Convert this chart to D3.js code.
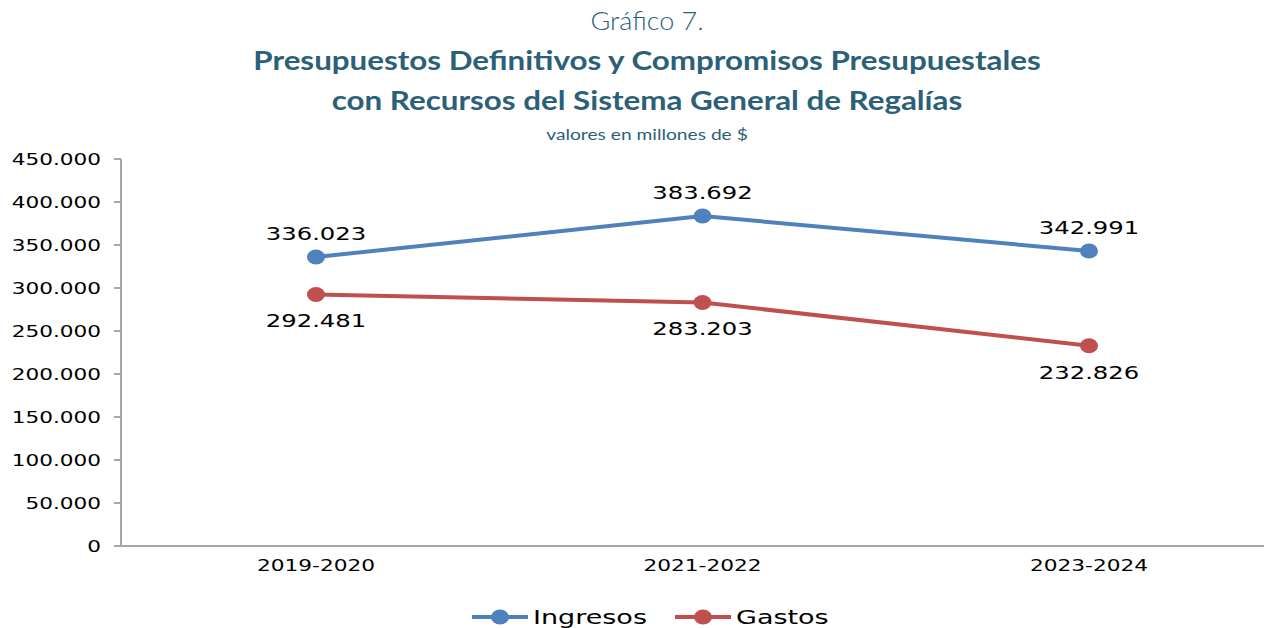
<!DOCTYPE html>
<html>
<head>
<meta charset="utf-8">
<script src="https://cdn.jsdelivr.net/npm/d3@7"></script>
<style>
  body { margin: 0; background: #fff; }
  svg { display: block; }
</style>
</head>
<body>
<svg id="chart"></svg>
<script>
// Data
const periods = ["2019-2020", "2021-2022", "2023-2024"];
const ingresos = [336023, 383692, 342991];
const gastos = [292481, 283203, 232826];
const yTicks = [0, 50000, 100000, 150000, 200000, 250000, 300000, 350000, 400000, 450000];
const seriesNames = ["Ingresos", "Gastos"];

const config = {
  width: 1264,
  height: 628,
  margin: {top: 159, right: 0, bottom: 82, left: 121},
  colors: ["#4f81bd", "#c0504d"],
  titleColor: "#2c5f78"
};

const svg = d3.select("#chart")
    .attr("width", config.width)
    .attr("height", config.height);

// text that is a bit wider than the installed fonts draw it
function wideText(parent, x, y, str, sx, anchor) {
  return parent.append("text")
    .attr("transform", `translate(${x},${y}) scale(${sx},1)`)
    .attr("text-anchor", anchor || "middle")
    .text(str);
}

// Titles
const titles = svg.append("g")
    .attr("fill", config.titleColor)
    .style("font-family", "Lato, 'Noto Sans', sans-serif");

wideText(titles, 647, 30, "Gráfico 7.", 1.08)
    .style("font-size", "25px")
    .style("font-weight", 300);
wideText(titles, 647, 70, "Presupuestos Definitivos y Compromisos Presupuestales", 1.14)
    .style("font-size", "27.5px")
    .style("font-weight", 700);
wideText(titles, 647, 110, "con Recursos del Sistema General de Regalías", 1.14)
    .style("font-size", "27.5px")
    .style("font-weight", 700);
wideText(titles, 647, 140, "valores en millones de $", 1.2)
    .style("font-size", "16px");

// Scales
const innerBottom = config.height - config.margin.bottom;

const xScale = d3.scalePoint()
    .domain(periods)
    .range([316, 1089]);

const yScale = d3.scaleLinear()
    .domain([0, 450000])
    .range([innerBottom, config.margin.top]);

const fmt = d3.formatLocale({decimal: ",", thousands: ".", grouping: [3], currency: ["$", ""]}).format(",d");

// Y axis
const yAxisG = svg.append("g")
    .attr("transform", `translate(${config.margin.left},0)`);

yAxisG.append("line")
    .attr("y1", yScale(450000))
    .attr("y2", yScale(0))
    .attr("stroke", "#a6a6a6")
    .attr("stroke-width", 2);

yAxisG.selectAll(".tick")
  .data(yTicks)
  .join("line")
    .attr("class", "tick")
    .attr("x1", -7)
    .attr("x2", 0)
    .attr("y1", d => yScale(d))
    .attr("y2", d => yScale(d))
    .attr("stroke", "#a6a6a6")
    .attr("stroke-width", 2);

const yLabels = yAxisG.append("g")
    .style("font-family", "'DejaVu Sans', Verdana, sans-serif")
    .style("font-size", "16px")
    .attr("fill", "#000");

yTicks.forEach(t => {
  wideText(yLabels, -20, yScale(t) + 6, fmt(t), 1.35, "end");
});

// X axis
svg.append("line")
    .attr("x1", config.margin.left - 7)
    .attr("x2", config.width)
    .attr("y1", innerBottom)
    .attr("y2", innerBottom)
    .attr("stroke", "#a6a6a6")
    .attr("stroke-width", 2);

const xLabels = svg.append("g")
    .style("font-family", "'DejaVu Sans', Verdana, sans-serif")
    .style("font-size", "15.5px")
    .attr("fill", "#000");

periods.forEach(p => {
  wideText(xLabels, xScale(p), 571, p, 1.4);
});

// Lines and points
const series = [ingresos, gastos];
const line = d3.line()
    .x((d, i) => xScale(periods[i]))
    .y(d => yScale(d));

series.forEach((values, s) => {
  const g = svg.append("g");
  g.append("path")
      .datum(values)
      .attr("d", line)
      .attr("fill", "none")
      .attr("stroke", config.colors[s])
      .attr("stroke-width", 4)
      .attr("stroke-linejoin", "round");

  g.selectAll("ellipse")
    .data(values)
    .join("ellipse")
      .attr("cx", (d, i) => xScale(periods[i]))
      .attr("cy", d => yScale(d))
      .attr("rx", 9)
      .attr("ry", 7.5)
      .attr("fill", config.colors[s]);

  // value labels: above for ingresos, below for gastos
  const lbl = g.append("g")
      .style("font-family", "'DejaVu Sans', Verdana, sans-serif")
      .style("font-size", "18px")
      .attr("fill", "#000");
  values.forEach((v, i) => {
    const y = s === 0 ? yScale(v) - 17 : yScale(v) + 33;
    wideText(lbl, xScale(periods[i]), y, fmt(v), 1.35);
  });
});

// Legend
const legend = svg.append("g")
    .style("font-family", "'DejaVu Sans', Verdana, sans-serif")
    .style("font-size", "20px");

const legendX = [472, 675];
seriesNames.forEach((name, s) => {
  const lg = legend.append("g")
      .attr("transform", `translate(${legendX[s]},617)`);
  lg.append("line")
      .attr("x1", 0)
      .attr("x2", 56)
      .attr("stroke", config.colors[s])
      .attr("stroke-width", 4);
  lg.append("ellipse")
      .attr("cx", 28)
      .attr("rx", 9)
      .attr("ry", 7.5)
      .attr("fill", config.colors[s]);
  wideText(lg, 61, 7, name, 1.35, "start");
});
</script>
</body>
</html>
